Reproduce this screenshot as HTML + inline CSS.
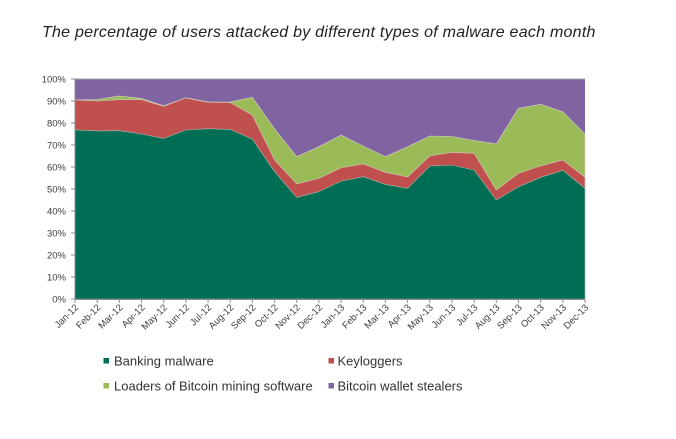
<!DOCTYPE html>
<html>
<head>
<meta charset="utf-8">
<style>
  html, body { margin:0; padding:0; background:#fff; }
  svg { display:block; }
  text { font-family: "Liberation Sans", Arial, sans-serif; }
</style>
</head>
<body>
<svg width="676" height="439" viewBox="0 0 676 439" xmlns="http://www.w3.org/2000/svg">
  <rect x="0" y="0" width="676" height="439" fill="#ffffff"/>
  <text x="42" y="37" font-size="16" font-style="italic" letter-spacing="0.25" fill="#222222">The percentage of users attacked by different types of malware each month</text>

  <!-- plot areas -->
  <rect x="75" y="79" width="510" height="220" fill="#8064a2"/>
  <polygon fill="#9bbb59" stroke="#d8d0c8" stroke-width="0.6" points="75,99.9 97.17,99.5 119.35,95.9 141.52,98.4 163.7,105.8 185.87,97.7 208.04,101.9 230.22,102.1 252.39,97.3 274.57,128.9 296.74,156.7 318.91,146.8 341.09,135.1 363.26,146.1 385.43,156.7 407.61,146.8 429.78,136.0 451.96,136.6 474.13,140.6 496.3,143.9 518.48,108.3 540.65,104.3 562.83,111.8 585,134.2 585,299 75,299"/>
  <polygon fill="#c0504d" stroke="#d8c8c0" stroke-width="0.6" points="75,99.9 97.17,101.0 119.35,99.7 141.52,99.7 163.7,106.3 185.87,97.9 208.04,102.3 230.22,102.5 252.39,115.1 274.57,160.0 296.74,183.9 318.91,178.4 341.09,167.7 363.26,163.9 385.43,172.3 407.61,176.9 429.78,156.0 451.96,152.3 474.13,153.4 496.3,190.1 518.48,173.4 540.65,165.9 562.83,160.0 585,177.3 585,299 75,299"/>
  <polygon fill="#006e55" stroke="#b8b8b0" stroke-width="0.6" points="75,129.8 97.17,130.9 119.35,130.7 141.52,134.0 163.7,138.4 185.87,130.0 208.04,128.7 230.22,129.4 252.39,139.1 274.57,171.6 296.74,197.4 318.91,191.6 341.09,181.1 363.26,176.7 385.43,184.4 407.61,188.3 429.78,166.1 451.96,165.0 474.13,170.1 496.3,200.0 518.48,186.8 540.65,177.3 562.83,170.3 585,188.3 585,299 75,299"/>

  <!-- axes -->
  <line x1="75" y1="79" x2="585" y2="79" stroke="#a0a0a0" stroke-width="1"/>
  <line x1="75" y1="79" x2="75" y2="299" stroke="#8c8c8c" stroke-width="1"/>
  <line x1="75" y1="299.5" x2="585" y2="299.5" stroke="#8c8c8c" stroke-width="1"/>

  <g stroke="#8c8c8c" stroke-width="1">
    <line x1="71" y1="79" x2="75" y2="79"/>
    <line x1="71" y1="101" x2="75" y2="101"/>
    <line x1="71" y1="123" x2="75" y2="123"/>
    <line x1="71" y1="145" x2="75" y2="145"/>
    <line x1="71" y1="167" x2="75" y2="167"/>
    <line x1="71" y1="189" x2="75" y2="189"/>
    <line x1="71" y1="211" x2="75" y2="211"/>
    <line x1="71" y1="233" x2="75" y2="233"/>
    <line x1="71" y1="255" x2="75" y2="255"/>
    <line x1="71" y1="277" x2="75" y2="277"/>
    <line x1="71" y1="299" x2="75" y2="299"/>
  </g>
  <g font-size="9.5" fill="#404040" text-anchor="end">
    <text x="66" y="82.5">100%</text>
    <text x="66" y="104.5">90%</text>
    <text x="66" y="126.5">80%</text>
    <text x="66" y="148.5">70%</text>
    <text x="66" y="170.5">60%</text>
    <text x="66" y="192.5">50%</text>
    <text x="66" y="214.5">40%</text>
    <text x="66" y="236.5">30%</text>
    <text x="66" y="258.5">20%</text>
    <text x="66" y="280.5">10%</text>
    <text x="66" y="302.5">0%</text>
  </g>

  <!-- x ticks -->
  <g stroke="#8c8c8c" stroke-width="1">
    <line x1="75" y1="299" x2="75" y2="303"/>
    <line x1="97.17" y1="299" x2="97.17" y2="303"/>
    <line x1="119.35" y1="299" x2="119.35" y2="303"/>
    <line x1="141.52" y1="299" x2="141.52" y2="303"/>
    <line x1="163.7" y1="299" x2="163.7" y2="303"/>
    <line x1="185.87" y1="299" x2="185.87" y2="303"/>
    <line x1="208.04" y1="299" x2="208.04" y2="303"/>
    <line x1="230.22" y1="299" x2="230.22" y2="303"/>
    <line x1="252.39" y1="299" x2="252.39" y2="303"/>
    <line x1="274.57" y1="299" x2="274.57" y2="303"/>
    <line x1="296.74" y1="299" x2="296.74" y2="303"/>
    <line x1="318.91" y1="299" x2="318.91" y2="303"/>
    <line x1="341.09" y1="299" x2="341.09" y2="303"/>
    <line x1="363.26" y1="299" x2="363.26" y2="303"/>
    <line x1="385.43" y1="299" x2="385.43" y2="303"/>
    <line x1="407.61" y1="299" x2="407.61" y2="303"/>
    <line x1="429.78" y1="299" x2="429.78" y2="303"/>
    <line x1="451.96" y1="299" x2="451.96" y2="303"/>
    <line x1="474.13" y1="299" x2="474.13" y2="303"/>
    <line x1="496.3" y1="299" x2="496.3" y2="303"/>
    <line x1="518.48" y1="299" x2="518.48" y2="303"/>
    <line x1="540.65" y1="299" x2="540.65" y2="303"/>
    <line x1="562.83" y1="299" x2="562.83" y2="303"/>
    <line x1="585" y1="299" x2="585" y2="303"/>
  </g>
  <g font-size="9.5" fill="#404040" text-anchor="end">
    <text transform="translate(79,308) rotate(-45)">Jan-12</text>
    <text transform="translate(101.17,308) rotate(-45)">Feb-12</text>
    <text transform="translate(123.35,308) rotate(-45)">Mar-12</text>
    <text transform="translate(145.52,308) rotate(-45)">Apr-12</text>
    <text transform="translate(167.7,308) rotate(-45)">May-12</text>
    <text transform="translate(189.87,308) rotate(-45)">Jun-12</text>
    <text transform="translate(212.04,308) rotate(-45)">Jul-12</text>
    <text transform="translate(234.22,308) rotate(-45)">Aug-12</text>
    <text transform="translate(256.39,308) rotate(-45)">Sep-12</text>
    <text transform="translate(278.57,308) rotate(-45)">Oct-12</text>
    <text transform="translate(300.74,308) rotate(-45)">Nov-12</text>
    <text transform="translate(322.91,308) rotate(-45)">Dec-12</text>
    <text transform="translate(345.09,308) rotate(-45)">Jan-13</text>
    <text transform="translate(367.26,308) rotate(-45)">Feb-13</text>
    <text transform="translate(389.43,308) rotate(-45)">Mar-13</text>
    <text transform="translate(411.61,308) rotate(-45)">Apr-13</text>
    <text transform="translate(433.78,308) rotate(-45)">May-13</text>
    <text transform="translate(455.96,308) rotate(-45)">Jun-13</text>
    <text transform="translate(478.13,308) rotate(-45)">Jul-13</text>
    <text transform="translate(500.3,308) rotate(-45)">Aug-13</text>
    <text transform="translate(522.48,308) rotate(-45)">Sep-13</text>
    <text transform="translate(544.65,308) rotate(-45)">Oct-13</text>
    <text transform="translate(566.83,308) rotate(-45)">Nov-13</text>
    <text transform="translate(589,308) rotate(-45)">Dec-13</text>
  </g>

  <!-- legend -->
  <rect x="103.5" y="358" width="5.5" height="5.5" fill="#006e55"/>
  <text x="114" y="365.7" font-size="13" fill="#333333">Banking malware</text>
  <rect x="328.5" y="358" width="5.5" height="5.5" fill="#c0504d"/>
  <text x="337.5" y="365.7" font-size="13" fill="#333333">Keyloggers</text>
  <rect x="103.5" y="383" width="5.5" height="5.5" fill="#9bbb59"/>
  <text x="114" y="390.7" font-size="13" fill="#333333">Loaders of Bitcoin mining software</text>
  <rect x="328.5" y="383" width="5.5" height="5.5" fill="#8064a2"/>
  <text x="337.5" y="390.7" font-size="13" fill="#333333">Bitcoin wallet stealers</text>
</svg>
</body>
</html>
